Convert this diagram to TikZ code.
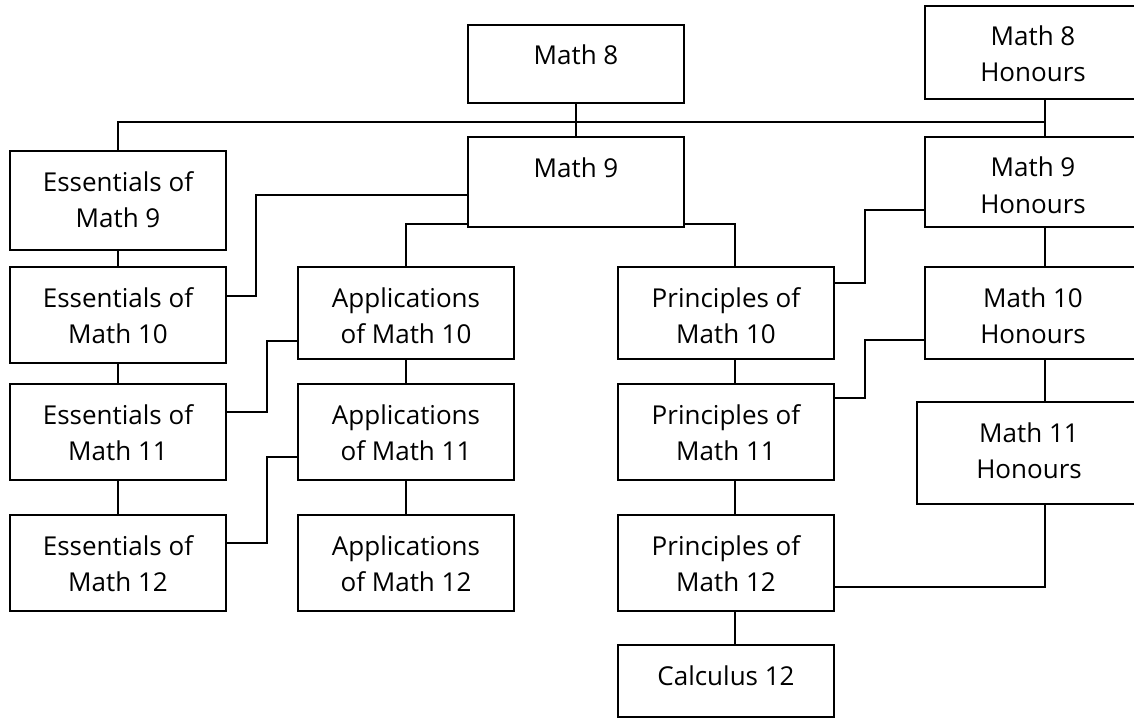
\documentclass[tikz,border=0pt]{standalone}
\usepackage{fontspec}
\setmainfont{Open Sans}
\usetikzlibrary{calc}
\begin{document}
\begin{tikzpicture}[x=0.5pt, y=-0.5pt, line join=miter, font=\fontsize{13}{18}\selectfont,
	course/.style={draw, line width=1pt, anchor=north west, minimum width=108pt, inner xsep=0pt, inner ysep=0pt, align=center, text height=20pt},
	twoline/.style={course, text height=38pt},
	link/.style={line width=1pt}]

				% Kích thước khung hình (đơn vị: pixel)
				\path[use as bounding box, clip] (0,0) rectangle (1134,717);

				% Các khối lớp 8 và 9
				\node[course, text depth=19pt] (m8) at (467,24) {Math 8};
				\node[twoline, text depth=8.5pt] (m8h) at (924,5) {Math 8\\Honours};
				\node[course, text depth=25pt] (m9) at (467,136) {Math 9};
				\node[twoline, text depth=7pt] (m9h) at (924,136) {Math 9\\Honours};
				\node[twoline, text depth=11.5pt] (ess9) at (9,150) {Essentials of\\Math 9};

				% Hàng lớp 10
				\node[twoline, text depth=10pt] (ess10) at (9,266) {Essentials of\\Math 10};
				\node[twoline, text depth=8pt] (app10) at (297,266) {Applications\\of Math 10};
				\node[twoline, text depth=8pt] (prin10) at (617,266) {Principles of\\Math 10};
				\node[twoline, text depth=8pt] (m10h) at (924,266) {Math 10\\Honours};

				% Hàng lớp 11
				\node[twoline, text depth=10pt] (ess11) at (9,383) {Essentials of\\Math 11};
				\node[twoline, text depth=10pt] (app11) at (297,383) {Applications\\of Math 11};
				\node[twoline, text depth=10pt] (prin11) at (617,383) {Principles of\\Math 11};
				\node[twoline, text depth=13pt, minimum width=112pt] (m11h) at (916,401) {Math 11\\Honours};

				% Hàng lớp 12
				\node[twoline, text depth=10pt] (ess12) at (9,514) {Essentials of\\Math 12};
				\node[twoline, text depth=10pt] (app12) at (297,514) {Applications\\of Math 12};
				\node[twoline, text depth=10pt] (prin12) at (617,514) {Principles of\\Math 12};
				\node[course, text depth=16pt] (calc) at (617,644) {Calculus 12};

				% Đường ngang chung dưới lớp 8
				\coordinate (bus) at (0,122);
				\draw[link] (m8.south) -- (m9.north);
				\draw[link] ([xshift=6pt]m8h.south) -- ([xshift=6pt]m9h.north);
				\draw[link] (ess9.north) |- ([xshift=6pt]m8h.south |- bus);

				% Nhánh Essentials
				\draw[link] (ess9) -- (ess10);
				\draw[link] (ess10) -- (ess11);
				\draw[link] (ess11) -- (ess12);
				\draw[link] ([yshift=-6.5pt]m9.west) -| ([xshift=14.5pt,yshift=9.5pt]ess10.east) -- ([yshift=9.5pt]ess10.east);

				% Nhánh Applications
				\draw[link] ([yshift=-21pt]m9.west) -| (app10.north);
				\draw[link] (app10) -- (app11);
				\draw[link] (app11) -- (app12);
				\draw[link] ([yshift=-14pt]app10.west) -| ([xshift=20pt,yshift=10pt]ess11.east) -- ([yshift=10pt]ess11.east);
				\draw[link] ([yshift=-12.5pt]app11.west) -| ([xshift=20pt,yshift=10pt]ess12.east) -- ([yshift=10pt]ess12.east);

				% Nhánh Principles
				\draw[link] ([yshift=-21pt]m9.east) -| ([xshift=4.5pt]prin10.north);
				\draw[link] ([xshift=4.5pt]prin10.south) -- ([xshift=4.5pt]prin11.north);
				\draw[link] ([xshift=4.5pt]prin11.south) -- ([xshift=4.5pt]prin12.north);
				\draw[link] ([xshift=4.5pt]prin12.south) -- ([xshift=4.5pt]calc.north);

				% Nhánh Honours
				\draw[link] ([xshift=6pt]m9h.south) -- ([xshift=6pt]m10h.north);
				\draw[link] ([xshift=6pt]m10h.south) -- ([xshift=8pt]m11h.north);
				\draw[link] ([yshift=-14pt]m9h.west) -| ([xshift=15pt,yshift=15pt]prin10.east) -- ([yshift=15pt]prin10.east);
				\draw[link] ([yshift=-13.5pt]m10h.west) -| ([xshift=15pt,yshift=17pt]prin11.east) -- ([yshift=17pt]prin11.east);
				\draw[link] ([xshift=8pt]m11h.south) |- ([yshift=-12pt]prin12.east);

			\end{tikzpicture}
\end{document}
